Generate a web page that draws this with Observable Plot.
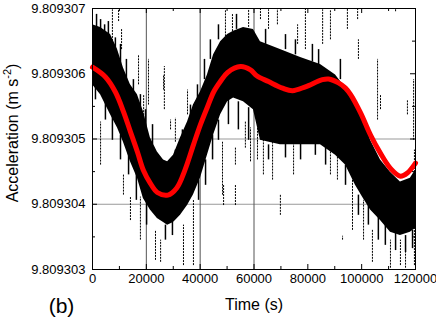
<!DOCTYPE html>
<html>
<head>
<meta charset="utf-8">
<script src="https://cdn.jsdelivr.net/npm/d3@7"></script>
<script src="https://cdn.jsdelivr.net/npm/@observablehq/plot@0.6"></script>
<style>
  html, body { margin: 0; padding: 0; background: #fff; }
  #chart { width: 436px; height: 322px; }
</style>
</head>
<body>
<div id="chart"></div>
<script>
// Fitted model curve (red)
const fitTime = [0, 4800, 8500, 11500, 14100, 16700, 18900, 21500, 24100, 28000, 31300, 34300, 37500, 40100, 42700, 45000, 47500, 50200, 55000, 58700, 61000, 65400, 70600, 74300, 79100, 85400, 87700, 91400, 94000, 95900, 99600, 103300, 107000, 110700, 114400, 117000, 120000];
const fitAccel = [9.80930610, 9.80930595, 9.80930572, 9.80930542, 9.80930511, 9.80930480, 9.80930452, 9.80930432, 9.80930418, 9.80930414, 9.80930425, 9.80930452, 9.80930491, 9.80930522, 9.80930549, 9.80930572, 9.80930588, 9.80930602, 9.80930611, 9.80930606, 9.80930597, 9.80930588, 9.80930578, 9.80930574, 9.80930580, 9.80930591, 9.80930592, 9.80930586, 9.80930578, 9.80930568, 9.80930540, 9.80930506, 9.80930478, 9.80930455, 9.80930443, 9.80930448, 9.80930463];

// Dense measured data: envelope of the black band
const bandTime = [0, 3000, 6700, 9300, 11500, 14100, 16700, 18900, 21500, 24100, 26400, 27900, 30100, 32700, 35300, 37500, 40100, 42700, 45000, 47600, 50200, 52400, 56100, 59800, 62400, 69800, 77300, 84700, 90300, 94000, 97700, 100300, 103300, 107000, 110700, 114400, 118100, 120000];
const bandHigh = [9.80930675, 9.80930671, 9.80930660, 9.80930637, 9.80930609, 9.80930583, 9.80930568, 9.80930542, 9.80930502, 9.80930480, 9.80930468, 9.80930465, 9.80930475, 9.80930502, 9.80930526, 9.80930552, 9.80930572, 9.80930598, 9.80930629, 9.80930649, 9.80930660, 9.80930665, 9.80930671, 9.80930668, 9.80930649, 9.80930637, 9.80930625, 9.80930614, 9.80930598, 9.80930578, 9.80930560, 9.80930537, 9.80930498, 9.80930468, 9.80930449, 9.80930434, 9.80930440, 9.80930452];
const bandLow = [9.80930583, 9.80930568, 9.80930537, 9.80930517, 9.80930495, 9.80930465, 9.80930440, 9.80930409, 9.80930391, 9.80930378, 9.80930372, 9.80930368, 9.80930372, 9.80930383, 9.80930398, 9.80930414, 9.80930440, 9.80930475, 9.80930506, 9.80930537, 9.80930557, 9.80930563, 9.80930557, 9.80930545, 9.80930498, 9.80930491, 9.80930491, 9.80930491, 9.80930475, 9.80930460, 9.80930429, 9.80930411, 9.80930391, 9.80930375, 9.80930357, 9.80930352, 9.80930357, 9.80930363];

// Ragged fringe streaks along the band edges
const fringeTime = [1500, 3000, 4500, 5900, 8500, 10400, 12600, 15200, 17800, 19700, 22300, 1100, 4800, 7400, 10400, 13400, 16300, 20100, 27100, 29700, 30800, 33400, 36400, 39000, 41600, 43800, 46800, 53500, 39400, 42000, 44600, 46800, 50500, 54200, 58000, 64300, 71700, 75400, 81700, 84000, 92100, 65400, 71700, 77300, 82800, 86600, 94000, 98800, 102500, 106200, 108800, 112600, 116300, 118900];
const fringeHigh = [9.80930691, 9.80930683, 9.80930675, 9.80930680, 9.80930655, 9.80930645, 9.80930622, 9.80930591, 9.80930568, 9.80930545, 9.80930522, 9.80930583, 9.80930560, 9.80930537, 9.80930506, 9.80930483, 9.80930452, 9.80930406, 9.80930368, 9.80930372, 9.80930483, 9.80930514, 9.80930552, 9.80930583, 9.80930622, 9.80930652, 9.80930675, 9.80930691, 9.80930437, 9.80930468, 9.80930506, 9.80930529, 9.80930560, 9.80930557, 9.80930548, 9.80930668, 9.80930660, 9.80930652, 9.80930645, 9.80930637, 9.80930622, 9.80930491, 9.80930498, 9.80930495, 9.80930498, 9.80930491, 9.80930460, 9.80930414, 9.80930398, 9.80930383, 9.80930368, 9.80930360, 9.80930352, 9.80930360];
const fringeLow = [9.80930668, 9.80930660, 9.80930652, 9.80930652, 9.80930629, 9.80930606, 9.80930583, 9.80930568, 9.80930537, 9.80930506, 9.80930491, 9.80930560, 9.80930529, 9.80930498, 9.80930468, 9.80930445, 9.80930406, 9.80930368, 9.80930345, 9.80930352, 9.80930460, 9.80930483, 9.80930522, 9.80930560, 9.80930591, 9.80930622, 9.80930652, 9.80930668, 9.80930406, 9.80930429, 9.80930468, 9.80930498, 9.80930522, 9.80930514, 9.80930498, 9.80930645, 9.80930637, 9.80930629, 9.80930618, 9.80930609, 9.80930591, 9.80930468, 9.80930471, 9.80930468, 9.80930475, 9.80930460, 9.80930429, 9.80930383, 9.80930368, 9.80930345, 9.80930337, 9.80930329, 9.80930326, 9.80930332];

// Outlier streaks of the measured data
const spikeTime = [7400, 9700, 10800, 17100, 19000, 20800, 26400, 26700, 35300, 29000, 3000, 30800, 48300, 53100, 56800, 58700, 61300, 11500, 14100, 17800, 23400, 25300, 33800, 37500, 48700, 53100, 49400, 52000, 58000, 62400, 65400, 68700, 76200, 79100, 85500, 88400, 94700, 98500, 98800, 105900, 107000, 112600, 117000, 119300, 119600, 61300, 63500, 66900, 69800, 74700, 88400, 91000, 96600, 100700, 104000, 110700, 92900, 114400, 116300];
const spikeHigh = [9.80930698, 9.80930699, 9.80930668, 9.80930629, 9.80930568, 9.80930622, 9.80930598, 9.80930611, 9.80930575, 9.80930529, 9.80930526, 9.80930532, 9.80930495, 9.80930486, 9.80930526, 9.80930517, 9.80930537, 9.80930445, 9.80930411, 9.80930411, 9.80930360, 9.80930345, 9.80930368, 9.80930406, 9.80930429, 9.80930429, 9.80930698, 9.80930691, 9.80930699, 9.80930699, 9.80930698, 9.80930699, 9.80930675, 9.80930699, 9.80930698, 9.80930698, 9.80930699, 9.80930699, 9.80930652, 9.80930622, 9.80930568, 9.80930699, 9.80930560, 9.80930591, 9.80930483, 9.80930498, 9.80930503, 9.80930498, 9.80930414, 9.80930498, 9.80930498, 9.80930491, 9.80930468, 9.80930406, 9.80930360, 9.80930345, 9.80930351, 9.80930345, 9.80930337];
const spikeLow = [9.80930645, 9.80930680, 9.80930637, 9.80930583, 9.80930522, 9.80930552, 9.80930575, 9.80930545, 9.80930537, 9.80930514, 9.80930460, 9.80930495, 9.80930414, 9.80930460, 9.80930486, 9.80930465, 9.80930495, 9.80930414, 9.80930375, 9.80930345, 9.80930314, 9.80930311, 9.80930306, 9.80930306, 9.80930398, 9.80930398, 9.80930652, 9.80930660, 9.80930671, 9.80930683, 9.80930668, 9.80930675, 9.80930645, 9.80930637, 9.80930645, 9.80930652, 9.80930668, 9.80930683, 9.80930622, 9.80930529, 9.80930545, 9.80930695, 9.80930537, 9.80930498, 9.80930306, 9.80930468, 9.80930445, 9.80930437, 9.80930383, 9.80930445, 9.80930445, 9.80930437, 9.80930360, 9.80930345, 9.80930311, 9.80930302, 9.80930345, 9.80930306, 9.80930302];

// Axes
const xTicks = [0, 20000, 40000, 60000, 80000, 100000, 120000];
const xMinor = [10000, 30000, 50000, 70000, 90000, 110000];
const yTicks = [9.809303, 9.809304, 9.809305, 9.809306, 9.809307];
const yMinor = [9.8093035, 9.8093045, 9.8093055, 9.8093065];
const xGrid = [20000, 40000, 60000];
const yGrid = [9.809304, 9.809305];

const fit = fitTime.map((t, i) => ({t, a: fitAccel[i]}));
const band = bandTime.map((t, i) => ({t, lo: bandLow[i], hi: bandHigh[i]}));
const fringe = fringeTime.map((t, i) => ({t, lo: fringeLow[i], hi: fringeHigh[i]}));
const spikes = spikeTime.map((t, i) => ({t, lo: spikeLow[i], hi: spikeHigh[i]}));

const W = 436, H = 322, mL = 92, mR = 21, mT = 8, mB = 53;
const fw = W - mL - mR, fh = H - mT - mB;

const chart = Plot.plot({
  width: W, height: H,
  marginLeft: mL, marginRight: mR, marginTop: mT, marginBottom: mB,
  style: {fontFamily: "'Liberation Sans', Arial, sans-serif", fontSize: "13px", background: "#fff", color: "#000", overflow: "visible"},
  x: {domain: [0, 120000]},
  y: {domain: [9.809303, 9.809307]},
  marks: [
    Plot.ruleY(yGrid, {y: d => d, stroke: "#999", strokeWidth: 1}),
    Plot.ruleX(xGrid, {x: d => d, stroke: "#555", strokeWidth: 1}),
    Plot.areaY(band, {x: "t", y1: "lo", y2: "hi", fill: "#000"}),
    Plot.ruleX(fringe, {x: "t", y1: "lo", y2: "hi", stroke: "#000", strokeWidth: 1.5}),
    Plot.ruleX(spikes, {x: "t", y1: "lo", y2: "hi", stroke: "#000", strokeWidth: 1, strokeDasharray: "2,1"}),
    Plot.line(fit, {x: "t", y: "a", stroke: "#ff0000", strokeWidth: 5, curve: "catmull-rom"}),
    Plot.frame({stroke: "#000", strokeWidth: 1}),
    // inward ticks
    Plot.tickX(xTicks, {x: d => d, insetTop: fh - 5, stroke: "#000"}),
    Plot.tickX(xMinor, {x: d => d, insetTop: fh - 3, stroke: "#000"}),
    Plot.tickX(xTicks, {x: d => d, insetBottom: fh - 5, stroke: "#000"}),
    Plot.tickX(xMinor, {x: d => d, insetBottom: fh - 3, stroke: "#000"}),
    Plot.tickY(yTicks, {y: d => d, insetRight: fw - 5, stroke: "#000"}),
    Plot.tickY(yMinor, {y: d => d, insetRight: fw - 3, stroke: "#000"}),
    Plot.tickY(yTicks, {y: d => d, insetLeft: fw - 5, stroke: "#000"}),
    Plot.tickY(yMinor, {y: d => d, insetLeft: fw - 3, stroke: "#000"}),
    Plot.axisX(xTicks, {tickSize: 0, tickPadding: 4, tickFormat: d3.format("d"), label: null, fontSize: 13}),
    Plot.axisY(yTicks, {tickSize: 0, tickPadding: 7, tickFormat: d3.format(".6f"), label: null, fontSize: 13}),
    Plot.text(["Time (s)"], {frameAnchor: "bottom", dy: 40, fontSize: 16, fill: "#000"}),
    Plot.text(["Acceleration (m s-2)"], {frameAnchor: "left", textAnchor: "middle", dx: -80, dy: -6, rotate: -90, fontSize: 16, fill: "#000"}),
    Plot.text(["(b)"], {frameAnchor: "bottom-left", textAnchor: "middle", dx: -31, dy: 43, fontSize: 21, fill: "#000"})
  ]
});

d3.select(chart).selectAll("text").filter(function() { return this.textContent === "Acceleration (m s-2)"; })
  .each(function() {
    const t = d3.select(this);
    t.text(null);
    t.append("tspan").text("Acceleration (m s");
    t.append("tspan").attr("font-size", "11px").attr("dy", "-0.6em").text("-2");
    t.append("tspan").attr("dy", "0.45em").text(")");
  });

document.getElementById("chart").appendChild(chart);
</script>
</body>
</html>
